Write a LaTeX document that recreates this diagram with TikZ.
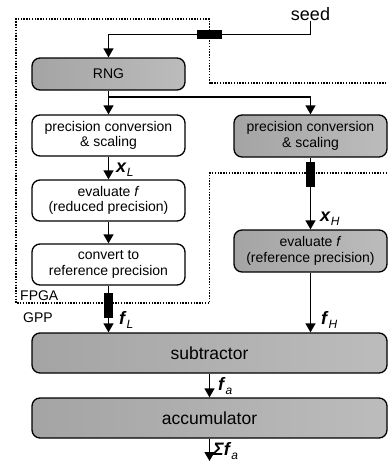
\documentclass[tikz,border=0pt]{standalone}
\usepackage{fontspec}
\setmainfont{Liberation Sans}
\usepackage{xcolor}
\usepackage{tikz}
\usetikzlibrary{arrows.meta, positioning, calc}
\definecolor{grayleft}{HTML}{A4A4A4}
\definecolor{grayright}{HTML}{BCBCBC}

\newcommand{\subidx}[1]{\raisebox{-0.22em}{\fontsize{12}{12}\selectfont\textit{#1}}}
\newcommand{\sym}[2]{\textbf{\textit{#1}}\subidx{#2}}

\begin{document}
\begin{tikzpicture}[
  x=1pt, y=-1pt,
  blk/.style={draw, rounded corners=8pt, line width=1.3pt, minimum width=153pt, minimum height=41pt, align=center, inner sep=1pt, font=\fontsize{14}{15.5}\selectfont},
  wbox/.style={blk, fill=white},
  gbox/.style={blk, left color=grayleft, right color=grayright},
  widebox/.style={gbox, minimum width=355pt, minimum height=40pt, font=\fontsize{17.5}{19}\selectfont},
  arr/.style={-{Triangle[length=9pt, width=10pt]}, line width=1.3pt},
  wire/.style={line width=1.3pt},
  busbar/.style={fill=black, inner sep=0pt},
  region/.style={line width=1.3pt, dash pattern=on 1.4pt off 1.4pt},
  lbl/.style={anchor=west, inner sep=0pt, font=\fontsize{18}{18}\selectfont},
]
  \useasboundingbox (0,0) rectangle (388,466);

  % FPGA / GPP border
  \draw[region] (392,83) -- (209.5,83) -- (209.5,19) -- (16,19) -- (16,303)
    -- (209.5,303) -- (209.5,173) -- (392,173);
  \node[anchor=west, inner sep=0pt, font=\fontsize{14}{14}\selectfont] (fpga) at (20,296) {FPGA};
  \node[anchor=west, inner sep=0pt, font=\fontsize{14}{14}\selectfont] (gpp) at (23,318) {GPP};

  % blocks
  \node[inner sep=0pt, font=\fontsize{18}{18}\selectfont] (seed) at (310.5,14) {seed};
  \node[gbox, minimum height=32pt] (rng) at (108.5,74) {RNG};
  \node[wbox] (convL) at (108.5,135.5) {precision conversion\\\& scaling};
  \node[gbox, minimum height=42pt] (convR) at (310.5,136) {precision conversion\\\& scaling};
  \node[wbox] (evalL) at (108.5,200.5) {evaluate \textit{f}\\(reduced precision)};
  \node[wbox] (toref) at (108.5,264.5) {convert to\\reference precision};
  \node[gbox, minimum height=42pt] (evalR) at (310.5,251) {evaluate \textit{f}\\(reference precision)};
  \node[widebox] (sub) at (209.5,353) {subtractor};
  \node[widebox] (acc) at (209.5,418) {accumulator};

  \coordinate (seedturn) at (310.5,34.5);
  \coordinate (split) at (108.5,97);
  \coordinate (out) at (209.5,461);

  % connections
  \draw[wire] (seed.south) -- (seedturn);
  \draw[arr] (seedturn) -| (rng.north);
  \draw[arr] (rng.south) -- (convL.north);
  \draw[arr] (split) -| (convR.north);
  \draw[arr] (convL.south) -- (evalL.north);
  \draw[arr] (evalL.south) -- (toref.north);
  \draw[arr] (toref.south) -- (toref.south |- sub.north);
  \draw[arr] (convR.south) -- (evalR.north);
  \draw[arr] (evalR.south) -- (evalR.south |- sub.north);
  \draw[arr] (sub.south) -- (acc.north);
  \draw[arr] (acc.south) -- (out);

  % crossings of the FPGA border
  \node[busbar, minimum width=25pt, minimum height=9pt] (barseed) at (209.5,34.5) {};
  \node[busbar, minimum width=9pt, minimum height=25pt] (barL) at (108.5,305) {};
  \node[busbar, minimum width=9pt, minimum height=25pt] (barR) at (310.5,174.5) {};

  % signal labels
  \node[lbl] (xl) at (116,170) {\sym{x}{L}};
  \node[lbl] (fl) at (119,320) {\sym{f}{L}};
  \node[lbl] (xh) at (320,219) {\sym{x}{H}};
  \node[lbl] (fh) at (321,320) {\sym{f}{H}};
  \node[lbl] (fa) at (218,386) {\sym{f}{a}};
  \node[lbl] (sfa) at (213,451) {\textbf{\textit{Σf}}\subidx{a}};
\end{tikzpicture}
\end{document}
